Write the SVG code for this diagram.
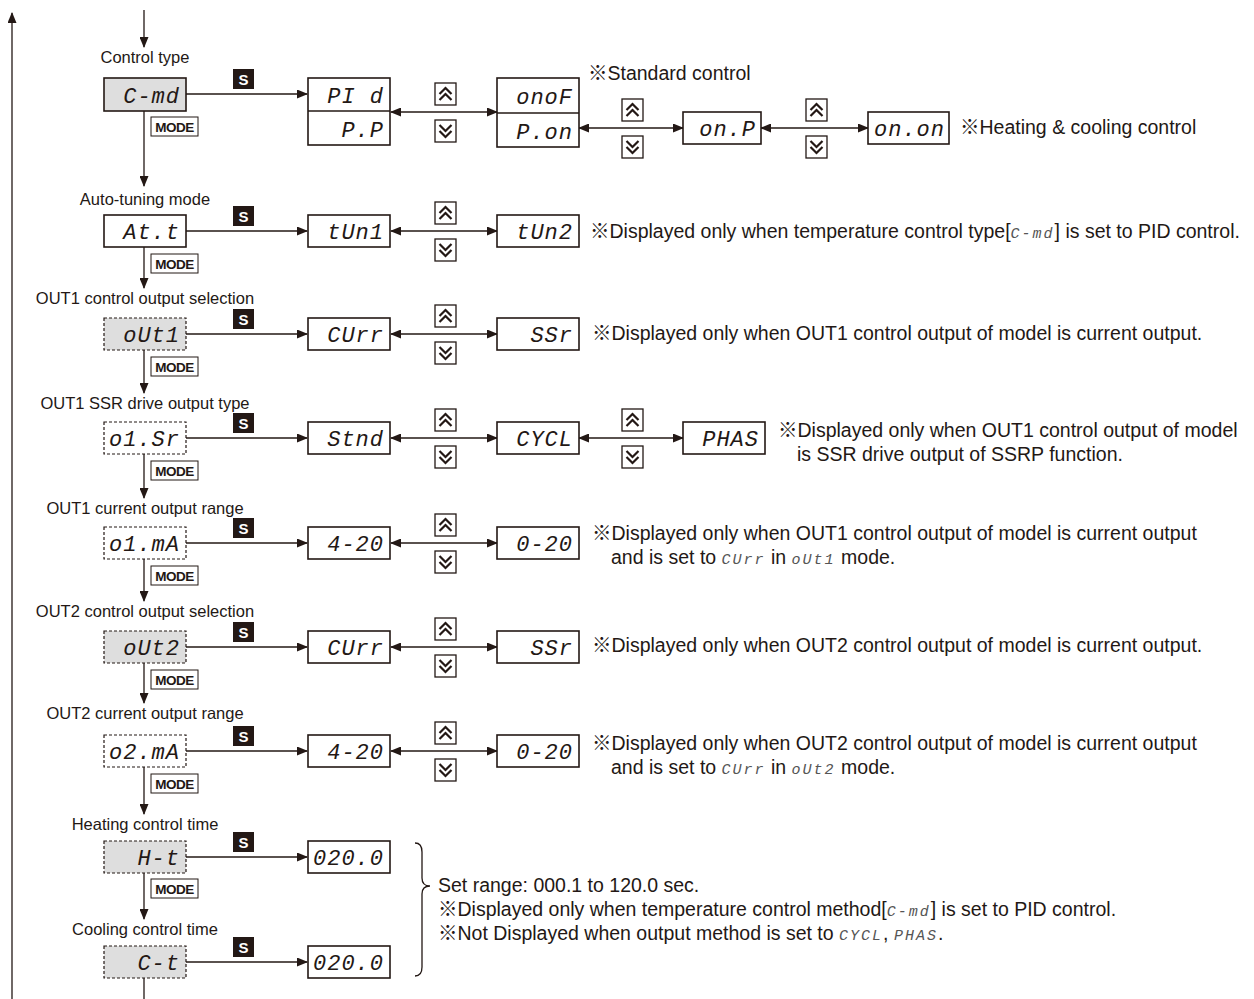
<svg xmlns="http://www.w3.org/2000/svg" xmlns:xlink="http://www.w3.org/1999/xlink" width="1254" height="999" viewBox="0 0 1254 999">
<style>
.lbl{font-family:"Liberation Sans",Arial,sans-serif;font-size:16.5px;fill:#231815}
.note{font-family:"Liberation Sans","Noto Sans CJK JP",sans-serif;font-size:19.5px;fill:#231815}
.seg{font-family:"Liberation Mono",monospace;font-style:italic;font-size:22px;fill:#231815;text-anchor:end;letter-spacing:1px}
.segs{font-family:"Liberation Mono",monospace;font-style:italic;font-size:15px;fill:#555;letter-spacing:2px}
.box{fill:#fff;stroke:#231815;stroke-width:1.6}
.gbox{fill:#dedede;stroke:#231815;stroke-width:1.6}
.dbox{fill:#fff;stroke:#231815;stroke-width:1.2;stroke-dasharray:3 2}
.dgbox{fill:#dedede;stroke:#231815;stroke-width:1.2;stroke-dasharray:3 2}
.ln{stroke:#231815;stroke-width:1.3;fill:none}
.mode{fill:#fff;stroke:#231815;stroke-width:1}
.modet{font-family:"Liberation Sans",Arial,sans-serif;font-weight:bold;font-size:13.5px;fill:#231815;text-anchor:middle;letter-spacing:-0.5px}
.st{font-family:"Liberation Sans",Arial,sans-serif;font-weight:bold;font-size:15px;fill:#fff;text-anchor:middle}
</style>
<defs>
<marker id="ah" markerUnits="userSpaceOnUse" markerWidth="11" markerHeight="9" refX="10" refY="4.5" orient="auto-start-reverse">
<path d="M0,0 L11,4.5 L0,9 z" fill="#231815"/>
</marker>
<g id="bu"><rect x="0" y="0" width="21" height="22" fill="#fff" stroke="#231815" stroke-width="1.3"/><polyline points="4.5,11 10.5,5 16.5,11" fill="none" stroke="#231815" stroke-width="2.2"/><polyline points="4.5,17 10.5,11 16.5,17" fill="none" stroke="#231815" stroke-width="2.2"/></g>
<g id="bd"><rect x="0" y="0" width="21" height="22" fill="#fff" stroke="#231815" stroke-width="1.3"/><polyline points="4.5,5 10.5,11 16.5,5" fill="none" stroke="#231815" stroke-width="2.2"/><polyline points="4.5,11 10.5,17 16.5,11" fill="none" stroke="#231815" stroke-width="2.2"/></g>
<g id="sk"><rect x="0" y="0" width="21" height="20" fill="#231815"/><text x="10.5" y="15.5" class="st">S</text></g>
<g id="mk"><rect x="0" y="0" width="47" height="19" class="mode"/><text x="23.5" y="15" class="modet">MODE</text></g>
</defs>

<g id="connectors">
<line x1="12" y1="999" x2="12" y2="13" class="ln" marker-end="url(#ah)"/>
<line x1="144" y1="10" x2="144" y2="47" class="ln" marker-end="url(#ah)"/>
<line x1="144" y1="111" x2="144" y2="186" class="ln" marker-end="url(#ah)"/>
<line x1="144" y1="247" x2="144" y2="288" class="ln" marker-end="url(#ah)"/>
<line x1="144" y1="350" x2="144" y2="393" class="ln" marker-end="url(#ah)"/>
<line x1="144" y1="454" x2="144" y2="498" class="ln" marker-end="url(#ah)"/>
<line x1="144" y1="559" x2="144" y2="601" class="ln" marker-end="url(#ah)"/>
<line x1="144" y1="663" x2="144" y2="703" class="ln" marker-end="url(#ah)"/>
<line x1="144" y1="767" x2="144" y2="814" class="ln" marker-end="url(#ah)"/>
<line x1="144" y1="873" x2="144" y2="919" class="ln" marker-end="url(#ah)"/>
<line x1="144" y1="978" x2="144" y2="999" class="ln"/>
<line x1="186" y1="94" x2="307" y2="94" class="ln" marker-end="url(#ah)"/>
<line x1="186" y1="231" x2="307" y2="231" class="ln" marker-end="url(#ah)"/>
<line x1="186" y1="334" x2="307" y2="334" class="ln" marker-end="url(#ah)"/>
<line x1="186" y1="438" x2="307" y2="438" class="ln" marker-end="url(#ah)"/>
<line x1="186" y1="543" x2="307" y2="543" class="ln" marker-end="url(#ah)"/>
<line x1="186" y1="647" x2="307" y2="647" class="ln" marker-end="url(#ah)"/>
<line x1="186" y1="751" x2="307" y2="751" class="ln" marker-end="url(#ah)"/>
<line x1="186" y1="857" x2="307" y2="857" class="ln" marker-end="url(#ah)"/>
<line x1="186" y1="962" x2="307" y2="962" class="ln" marker-end="url(#ah)"/>
<line x1="391" y1="112" x2="497" y2="112" class="ln" marker-start="url(#ah)" marker-end="url(#ah)"/>
<line x1="579" y1="128" x2="683" y2="128" class="ln" marker-start="url(#ah)" marker-end="url(#ah)"/>
<line x1="761" y1="128" x2="868" y2="128" class="ln" marker-start="url(#ah)" marker-end="url(#ah)"/>
<line x1="391" y1="231" x2="497" y2="231" class="ln" marker-start="url(#ah)" marker-end="url(#ah)"/>
<line x1="391" y1="334" x2="497" y2="334" class="ln" marker-start="url(#ah)" marker-end="url(#ah)"/>
<line x1="391" y1="438" x2="497" y2="438" class="ln" marker-start="url(#ah)" marker-end="url(#ah)"/>
<line x1="579" y1="438" x2="683" y2="438" class="ln" marker-start="url(#ah)" marker-end="url(#ah)"/>
<line x1="391" y1="543" x2="497" y2="543" class="ln" marker-start="url(#ah)" marker-end="url(#ah)"/>
<line x1="391" y1="647" x2="497" y2="647" class="ln" marker-start="url(#ah)" marker-end="url(#ah)"/>
<line x1="391" y1="751" x2="497" y2="751" class="ln" marker-start="url(#ah)" marker-end="url(#ah)"/>
<path d="M415,843 Q422,843 422,852 L422,878 Q422,886 430,886 Q422,886 422,894 L422,967 Q422,976 415,976" class="ln"/>
</g>

<g id="keys">
<use xlink:href="#sk" x="233" y="69"/>
<use xlink:href="#sk" x="233" y="206"/>
<use xlink:href="#sk" x="233" y="309"/>
<use xlink:href="#sk" x="233" y="413"/>
<use xlink:href="#sk" x="233" y="518"/>
<use xlink:href="#sk" x="233" y="622"/>
<use xlink:href="#sk" x="233" y="726"/>
<use xlink:href="#sk" x="233" y="832"/>
<use xlink:href="#sk" x="233" y="937"/>
<use xlink:href="#mk" x="151" y="117"/>
<use xlink:href="#mk" x="151" y="254"/>
<use xlink:href="#mk" x="151" y="357"/>
<use xlink:href="#mk" x="151" y="461"/>
<use xlink:href="#mk" x="151" y="566"/>
<use xlink:href="#mk" x="151" y="670"/>
<use xlink:href="#mk" x="151" y="774"/>
<use xlink:href="#mk" x="151" y="879"/>
<use xlink:href="#bu" x="435" y="83"/><use xlink:href="#bd" x="435" y="120"/>
<use xlink:href="#bu" x="622" y="99"/><use xlink:href="#bd" x="622" y="136"/>
<use xlink:href="#bu" x="806" y="99"/><use xlink:href="#bd" x="806" y="136"/>
<use xlink:href="#bu" x="435" y="202"/><use xlink:href="#bd" x="435" y="239"/>
<use xlink:href="#bu" x="435" y="305"/><use xlink:href="#bd" x="435" y="342"/>
<use xlink:href="#bu" x="435" y="409"/><use xlink:href="#bd" x="435" y="446"/>
<use xlink:href="#bu" x="622" y="409"/><use xlink:href="#bd" x="622" y="446"/>
<use xlink:href="#bu" x="435" y="514"/><use xlink:href="#bd" x="435" y="551"/>
<use xlink:href="#bu" x="435" y="618"/><use xlink:href="#bd" x="435" y="655"/>
<use xlink:href="#bu" x="435" y="722"/><use xlink:href="#bd" x="435" y="759"/>
</g>

<g id="n-cmd"><text x="145" y="63" class="lbl" text-anchor="middle">Control type</text><rect x="104" y="78" width="82" height="33" class="gbox"/><text x="180" y="103" class="seg">C-md</text></g>
<g id="n-pid"><rect x="308" y="78" width="82" height="67" class="box"/><line x1="308" y1="111" x2="390" y2="111" stroke="#231815" stroke-width="1.3"/><text x="384" y="103" class="seg">PI d</text><text x="384" y="137" class="seg">P.P</text></g>
<g id="n-onof"><rect x="497" y="78" width="82" height="69" class="box"/><line x1="497" y1="113" x2="579" y2="113" stroke="#231815" stroke-width="1.3"/><text x="573" y="104" class="seg">onoF</text><text x="573" y="139" class="seg">P.on</text></g>
<g id="n-onp"><rect x="683" y="112" width="78" height="32" class="box"/><text x="756" y="136" class="seg">on.P</text></g>
<g id="n-onon"><rect x="868" y="112" width="81" height="32" class="box"/><text x="945" y="136" class="seg">on.on</text></g>
<text x="588" y="80" class="note">※Standard control</text>
<text x="960" y="134" class="note">※Heating &amp; cooling control</text>

<g id="n-att"><text x="145" y="205" class="lbl" text-anchor="middle">Auto-tuning mode</text><rect x="104" y="215" width="82" height="32" class="box"/><text x="180" y="239" class="seg">At.t</text></g>
<g id="n-tun1"><rect x="308" y="215" width="82" height="32" class="box"/><text x="384" y="239" class="seg">tUn1</text></g>
<g id="n-tun2"><rect x="497" y="215" width="82" height="32" class="box"/><text x="573" y="239" class="seg">tUn2</text></g>
<text x="590" y="238" class="note">※Displayed only when temperature control type[<tspan class="segs">C-md</tspan>] is set to PID control.</text>

<g id="n-out1"><text x="145" y="304" class="lbl" text-anchor="middle">OUT1 control output selection</text><rect x="104" y="318" width="82" height="32" class="dgbox"/><text x="180" y="342" class="seg">oUt1</text></g>
<g id="n-curr1"><rect x="308" y="318" width="82" height="32" class="box"/><text x="384" y="342" class="seg">CUrr</text></g>
<g id="n-ssr1"><rect x="497" y="318" width="82" height="32" class="box"/><text x="573" y="342" class="seg">SSr</text></g>
<text x="592" y="340" class="note">※Displayed only when OUT1 control output of model is current output.</text>

<g id="n-o1sr"><text x="145" y="409" class="lbl" text-anchor="middle">OUT1 SSR drive output type</text><rect x="104" y="422" width="82" height="32" class="dbox"/><text x="180" y="446" class="seg">o1.Sr</text></g>
<g id="n-stnd"><rect x="308" y="422" width="82" height="32" class="box"/><text x="384" y="446" class="seg">Stnd</text></g>
<g id="n-cycl"><rect x="497" y="422" width="82" height="32" class="box"/><text x="573" y="446" class="seg">CYCL</text></g>
<g id="n-phas"><rect x="683" y="422" width="82" height="32" class="box"/><text x="759" y="446" class="seg">PHAS</text></g>
<text x="778" y="437" class="note">※Displayed only when OUT1 control output of model</text>
<text x="797" y="461" class="note">is SSR drive output of SSRP function.</text>

<g id="n-o1ma"><text x="145" y="514" class="lbl" text-anchor="middle">OUT1 current output range</text><rect x="104" y="527" width="82" height="32" class="dbox"/><text x="180" y="551" class="seg">o1.mA</text></g>
<g id="n-420a"><rect x="308" y="527" width="82" height="32" class="box"/><text x="384" y="551" class="seg">4-20</text></g>
<g id="n-020a"><rect x="497" y="527" width="82" height="32" class="box"/><text x="573" y="551" class="seg">0-20</text></g>
<text x="592" y="540" class="note">※Displayed only when OUT1 control output of model is current output</text>
<text x="611" y="564" class="note">and is set to <tspan class="segs">CUrr</tspan> in <tspan class="segs">oUt1</tspan> mode.</text>

<g id="n-out2"><text x="145" y="617" class="lbl" text-anchor="middle">OUT2 control output selection</text><rect x="104" y="631" width="82" height="32" class="dgbox"/><text x="180" y="655" class="seg">oUt2</text></g>
<g id="n-curr2"><rect x="308" y="631" width="82" height="32" class="box"/><text x="384" y="655" class="seg">CUrr</text></g>
<g id="n-ssr2"><rect x="497" y="631" width="82" height="32" class="box"/><text x="573" y="655" class="seg">SSr</text></g>
<text x="592" y="652" class="note">※Displayed only when OUT2 control output of model is current output.</text>

<g id="n-o2ma"><text x="145" y="719" class="lbl" text-anchor="middle">OUT2 current output range</text><rect x="104" y="735" width="82" height="32" class="dbox"/><text x="180" y="759" class="seg">o2.mA</text></g>
<g id="n-420b"><rect x="308" y="735" width="82" height="32" class="box"/><text x="384" y="759" class="seg">4-20</text></g>
<g id="n-020b"><rect x="497" y="735" width="82" height="32" class="box"/><text x="573" y="759" class="seg">0-20</text></g>
<text x="592" y="750" class="note">※Displayed only when OUT2 control output of model is current output</text>
<text x="611" y="774" class="note">and is set to <tspan class="segs">CUrr</tspan> in <tspan class="segs">oUt2</tspan> mode.</text>

<g id="n-ht"><text x="145" y="830" class="lbl" text-anchor="middle">Heating control time</text><rect x="104" y="841" width="82" height="32" class="dgbox"/><text x="180" y="865" class="seg">H-t</text></g>
<g id="n-ht-v"><rect x="308" y="841" width="82" height="32" class="box"/><text x="384" y="865" class="seg">020.0</text></g>
<g id="n-ct"><text x="145" y="935" class="lbl" text-anchor="middle">Cooling control time</text><rect x="104" y="946" width="82" height="32" class="dgbox"/><text x="180" y="970" class="seg">C-t</text></g>
<g id="n-ct-v"><rect x="308" y="946" width="82" height="32" class="box"/><text x="384" y="970" class="seg">020.0</text></g>
<text x="438" y="892" class="note">Set range: 000.1 to 120.0 sec.</text>
<text x="438" y="916" class="note">※Displayed only when temperature control method[<tspan class="segs">C-md</tspan>] is set to PID control.</text>
<text x="438" y="940" class="note">※Not Displayed when output method is set to <tspan class="segs">CYCL</tspan>, <tspan class="segs">PHAS</tspan>.</text>
</svg>
